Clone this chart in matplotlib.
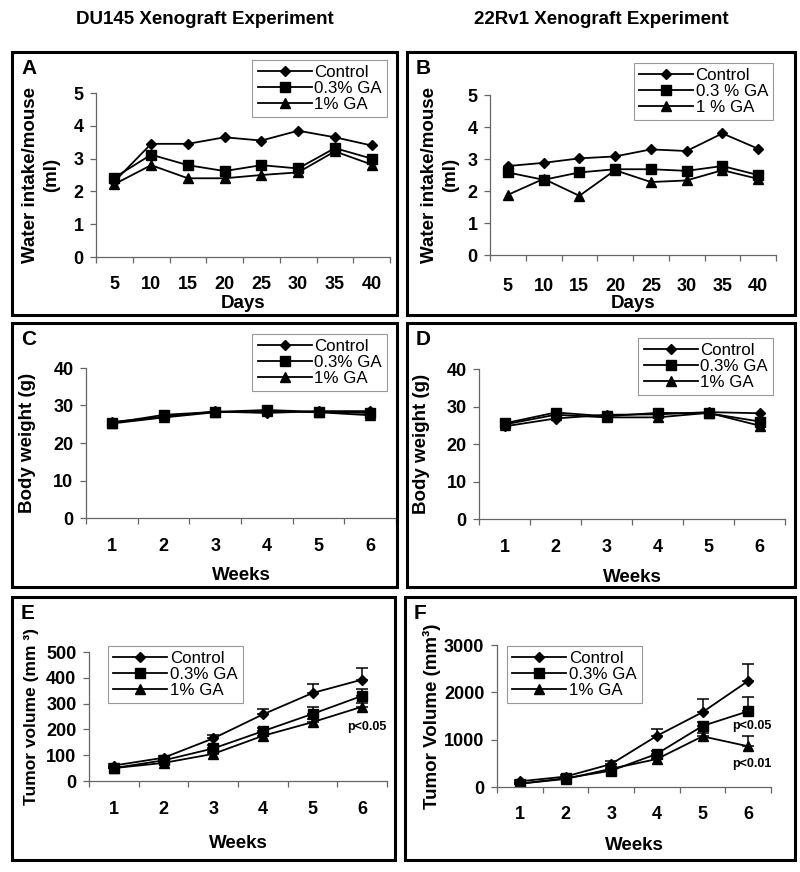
import numpy as np
import matplotlib
matplotlib.use("Agg")
import matplotlib.pyplot as plt
from matplotlib.patches import Rectangle

plt.rcParams['font.family'] = ['Liberation Sans', 'DejaVu Sans']

# ---- data ----
days = [5, 10, 15, 20, 25, 30, 35, 40]
weeks = [1, 2, 3, 4, 5, 6]

# A: DU145 water intake (ml)
a_control = [2.30, 3.45, 3.45, 3.65, 3.55, 3.85, 3.65, 3.40]
a_ga03 = [2.42, 3.12, 2.80, 2.62, 2.80, 2.70, 3.32, 3.00]
a_ga1 = [2.22, 2.80, 2.40, 2.40, 2.50, 2.58, 3.22, 2.82]

# B: 22Rv1 water intake (ml)
b_control = [2.78, 2.88, 3.02, 3.08, 3.30, 3.25, 3.80, 3.32]
b_ga03 = [2.58, 2.35, 2.58, 2.68, 2.68, 2.63, 2.78, 2.50]
b_ga1 = [1.88, 2.38, 1.85, 2.65, 2.28, 2.33, 2.65, 2.38]

# C: DU145 body weight (g)
c_control = [25.6, 27.0, 28.4, 28.0, 28.5, 28.5]
c_ga03 = [25.3, 27.5, 28.3, 28.8, 28.3, 28.0]
c_ga1 = [25.2, 26.8, 28.2, 28.5, 28.2, 27.4]

# D: 22Rv1 body weight (g)
d_control = [24.7, 26.8, 27.8, 27.9, 28.5, 28.2]
d_ga03 = [25.5, 28.4, 27.4, 28.3, 28.2, 26.0]
d_ga1 = [25.2, 27.8, 27.1, 27.1, 28.3, 24.9]

# E: DU145 tumor volume (mm3) with upper error
e_control = [60, 90, 165, 258, 341, 393]
e_control_err = [5, 8, 14, 22, 34, 44]
e_ga03 = [50, 80, 126, 193, 260, 330]
e_ga03_err = [4, 6, 14, 14, 27, 28]
e_ga1 = [50, 70, 105, 175, 228, 288]
e_ga1_err = [4, 5, 8, 10, 12, 15]

# F: 22Rv1 tumor volume (mm3) with upper error
f_control = [120, 220, 485, 1080, 1580, 2240]
f_control_err = [30, 40, 60, 150, 270, 350]
f_ga03 = [70, 185, 345, 700, 1290, 1600]
f_ga03_err = [20, 30, 40, 60, 80, 300]
f_ga1 = [70, 170, 385, 590, 1070, 860]
f_ga1_err = [20, 25, 40, 50, 70, 215]

labels_std = ["Control", "0.3% GA", "1% GA"]
labels_b = ["Control", "0.3 % GA", "1 % GA"]

W, H = 800, 872
fig = plt.figure(figsize=(W / 100, H / 100), dpi=100)


def px_axes(l, t, r, b):
    return fig.add_axes([l / W, 1 - b / H, (r - l) / W, (b - t) / H])


def frame(l, t, r, b):
    fig.patches.append(Rectangle((l / W, 1 - b / H), (r - l) / W, (b - t) / H,
                                 transform=fig.transFigure, fill=False,
                                 lw=2.2, ec='black'))


markers = ['D', 's', '^']
msizes = [5.5, 6.5, 7.5]


def panel(box, ax_px, cats, series, errs, ylim, yticks, ylabel, xlabel,
          ylab_x, xtick_y, xlab_y, leg_labels, leg_anchor, leg_loc, letter,
          ylab_size=13.5):
    frame(*box)
    ax = px_axes(*ax_px)
    l, t, r, b = ax_px
    n = len(cats)
    x = np.arange(1, n + 1)
    for i, ys in enumerate(series):
        if errs is not None:
            ax.errorbar(x, ys, yerr=[np.zeros(n), errs[i]], fmt='none',
                        ecolor='black', elinewidth=1.1, capsize=4.5, capthick=1.1)
        ax.plot(x, ys, color='black', lw=1.3, marker=markers[i],
                markersize=msizes[i], label=leg_labels[i])
    ax.set_xlim(0.5, n + 0.5)
    ax.set_ylim(*ylim)
    ax.set_yticks(yticks)
    for s in ['top', 'right']:
        ax.spines[s].set_visible(False)
    for s in ['left', 'bottom']:
        ax.spines[s].set_color('#666666')
        ax.spines[s].set_linewidth(0.9)
    ax.set_xticks(np.arange(0.5, n + 1, 1))
    ax.set_xticklabels([])
    ax.set_xticks(x, minor=True)
    ax.set_xticklabels([str(c) for c in cats], minor=True)
    ax.tick_params(axis='x', which='major', direction='out', length=4,
                   color='#666666', width=0.9)
    ax.tick_params(axis='x', which='minor', length=0,
                   pad=(xtick_y - b - 9) * 0.72, labelsize=13)
    ax.tick_params(axis='y', direction='out', length=4, color='#666666',
                   width=0.9, labelsize=13, pad=5)
    for lab in ax.get_xticklabels(minor=True) + ax.get_yticklabels():
        lab.set_fontweight('bold')
    ax.set_ylabel(ylabel, fontsize=ylab_size, fontweight='bold', linespacing=1.35)
    ax.yaxis.label.set_va('center')
    ax.yaxis.set_label_coords((ylab_x - l) / (r - l), 0.5)
    ax.set_xlabel(xlabel, fontsize=13.5, fontweight='bold')
    ax.xaxis.label.set_va('center')
    ax.xaxis.set_label_coords(0.5, (b - xlab_y) / (b - t))
    leg = ax.legend(loc=leg_loc, bbox_to_anchor=(leg_anchor[0] / W, 1 - leg_anchor[1] / H),
                    bbox_transform=fig.transFigure, fontsize=12.2, frameon=True,
                    fancybox=False, edgecolor='#999999', framealpha=1,
                    borderaxespad=0, borderpad=0.3, labelspacing=0.05,
                    handlelength=3.2, handletextpad=0.15, handleheight=0.6)
    leg.get_frame().set_linewidth(0.8)
    fig.text(box[0] / W + 9 / W, 1 - (box[1] + 7) / H, letter, fontsize=15,
             fontweight='bold', va='top', ha='left')
    return ax


# column titles
fig.text(205 / W, 1 - 20 / H, "DU145 Xenograft Experiment", fontsize=13.5,
         fontweight='bold', ha='center', va='center')
fig.text(601 / W, 1 - 20 / H, "22Rv1 Xenograft Experiment", fontsize=13.5,
         fontweight='bold', ha='center', va='center')

panel((12, 52, 397, 315), (96, 93, 390, 257), days, [a_control, a_ga03, a_ga1], None,
      (0, 5), range(0, 6), "Water intake/mouse\n(ml)", "Days",
      41, 285, 303, labels_std, (387, 60), 'upper right', "A")
panel((407, 52, 795, 315), (490, 95, 776, 255), days, [b_control, b_ga03, b_ga1], None,
      (0, 5), range(0, 6), "Water intake/mouse\n(ml)", "Days",
      440, 287, 303, labels_b, (773, 63), 'upper right', "B")
panel((12, 323, 397, 587), (86, 368, 396, 518), weeks, [c_control, c_ga03, c_ga1], None,
      (0, 40), range(0, 41, 10), "Body weight (g)", "Weeks",
      28, 547, 575, labels_std, (387, 334), 'upper right', "C")
panel((407, 323, 795, 587), (479, 369, 785, 519), weeks, [d_control, d_ga03, d_ga1], None,
      (0, 40), range(0, 41, 10), "Body weight (g)", "Weeks",
      422, 548, 577, labels_std, (773, 338), 'upper right', "D")
panel((12, 597, 395, 860), (89, 652, 387, 781), weeks, [e_control, e_ga03, e_ga1],
      [e_control_err, e_ga03_err, e_ga1_err],
      (0, 500), range(0, 501, 100), "Tumor volume (mm \u00b3)", "Weeks",
      32, 810, 843, labels_std, (108, 646), 'upper left', "E", ylab_size=12.5)
panel((405, 597, 795, 860), (497, 645, 771, 787), weeks, [f_control, f_ga03, f_ga1],
      [f_control_err, f_ga03_err, f_ga1_err],
      (0, 3000), range(0, 3001, 1000), "Tumor Volume (mm\u00b3)", "Weeks",
      432, 815, 845, labels_std, (507, 646), 'upper left', "F")

# significance notes
fig.text(367 / W, 1 - 727 / H, "p<0.05", fontsize=9, fontweight='bold', ha='center', va='center')
fig.text(752 / W, 1 - 726 / H, "p<0.05", fontsize=9, fontweight='bold', ha='center', va='center')
fig.text(752 / W, 1 - 764 / H, "p<0.01", fontsize=9, fontweight='bold', ha='center', va='center')

fig.savefig("out.png", dpi=100)
